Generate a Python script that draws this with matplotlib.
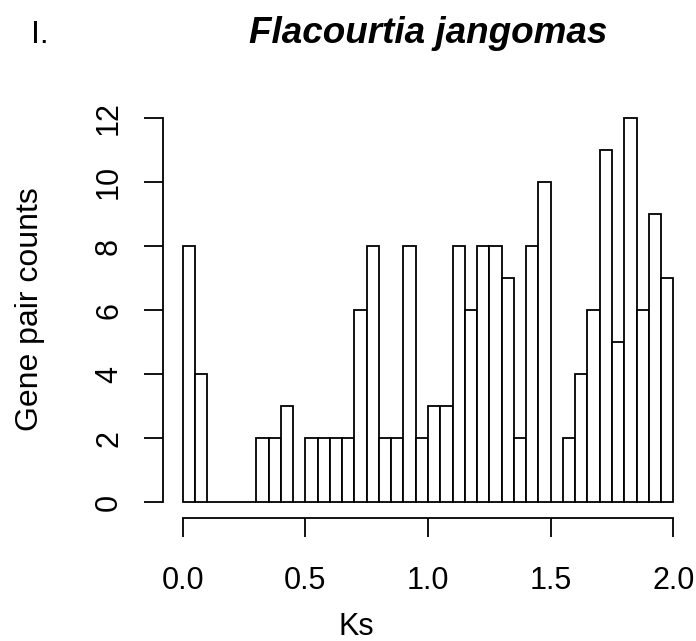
import numpy as np
import matplotlib
matplotlib.use("Agg")
import matplotlib.pyplot as plt

# histogram of Ks values, bins of width 0.05 from 0 to 2
bin_edges = np.round(np.arange(0, 2.0001, 0.05), 2)
counts = [8, 4, 0, 0, 0, 0, 2, 2, 3, 0,
          2, 2, 2, 2, 6, 8, 2, 2, 8, 2,
          3, 3, 8, 6, 8, 8, 7, 2, 8, 10,
          0, 2, 4, 6, 11, 5, 12, 6, 9, 7]
xticks = [0.0, 0.5, 1.0, 1.5, 2.0]
xticklabels = ["0.0", "0.5", "1.0", "1.5", "2.0"]
yticks = [0, 2, 4, 6, 8, 10, 12]

plt.rcParams['font.family'] = ['Liberation Sans', 'DejaVu Sans']

W, H = 696, 641
fig = plt.figure(figsize=(W / 100, H / 100), dpi=100)
ax = fig.add_axes([163 / W, (H - 517.5) / H, (693 - 163) / W, (517.5 - 102.6) / H])

ax.bar(bin_edges[:-1], counts, width=0.05, align='edge',
       color='white', edgecolor='black', linewidth=1.3)

ax.set_xlim(-0.08, 2.08)
ax.set_ylim(-0.48, 12.48)

for s in ['top', 'right']:
    ax.spines[s].set_visible(False)
ax.spines['left'].set_bounds(0, 12)
ax.spines['bottom'].set_bounds(0, 2)
ax.spines['left'].set_linewidth(1.3)
ax.spines['bottom'].set_linewidth(1.3)

ax.set_xticks(xticks)
ax.set_xticklabels(xticklabels)
ax.set_yticks(yticks)
ax.set_yticklabels([str(v) for v in yticks], rotation=90, va='center')
ax.tick_params(axis='both', direction='out', length=14, width=1.3,
               labelsize=22, colors='black')
ax.tick_params(axis='x', pad=21)
ax.tick_params(axis='y', pad=14)

fig.text(356 / W, 1 - 627 / H, "Ks", ha='center', va='center', fontsize=22)
fig.text(30 / W, 1 - 309 / H, "Gene pair counts", ha='center', va='center',
         rotation=90, fontsize=23)
fig.text(428 / W, 1 - 43 / H, "Flacourtia jangomas", ha='center', va='baseline',
         fontsize=26.6, fontweight='bold', fontstyle='italic')
fig.text(31 / W, 1 - 43 / H, "I.", ha='left', va='baseline', fontsize=23)

fig.savefig("out.png", dpi=100)
